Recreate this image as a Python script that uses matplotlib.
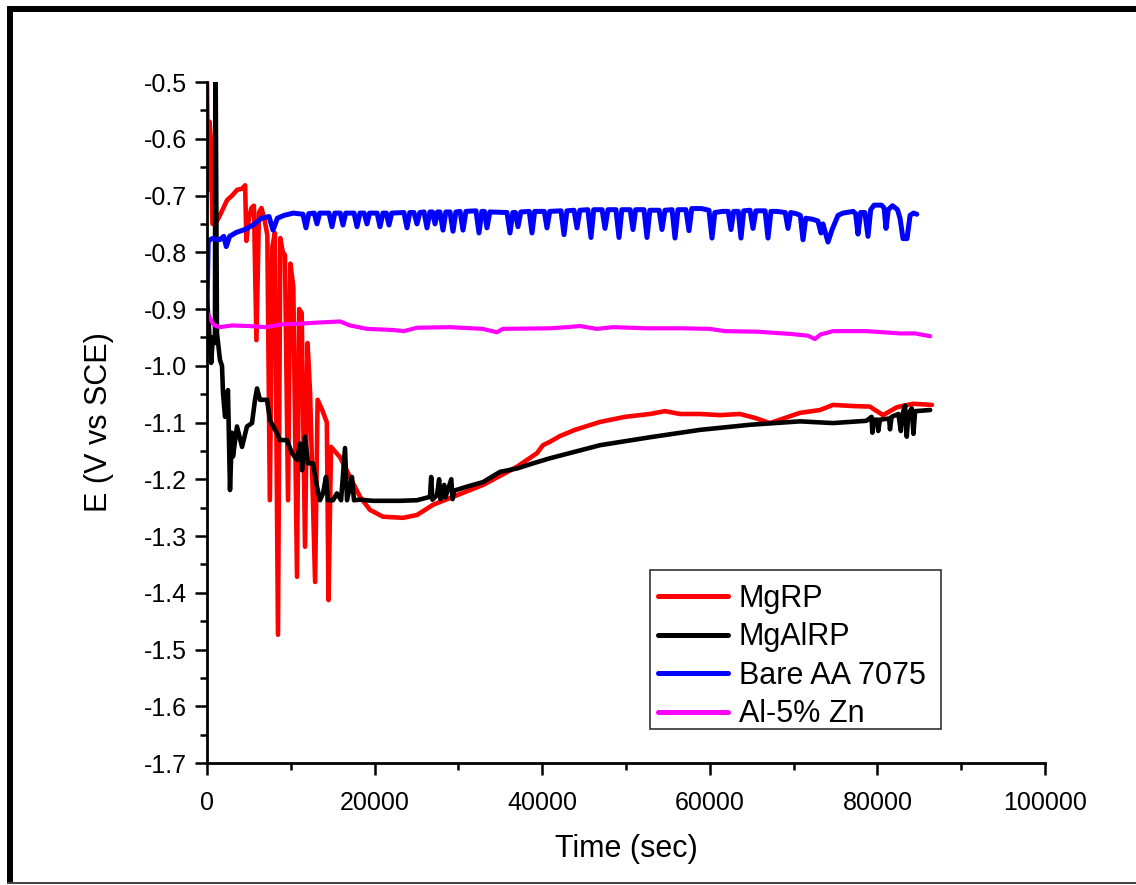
import matplotlib
matplotlib.use("Agg")
import matplotlib.pyplot as plt
from matplotlib.ticker import MultipleLocator, FormatStrFormatter
from matplotlib.patches import Rectangle

plt.rcParams['font.family'] = ['Liberation Sans', 'DejaVu Sans']
plt.rcParams['axes.unicode_minus'] = False

series_labels = ["MgRP", "MgAlRP", "Bare AA 7075", "Al-5% Zn"]
series_colors = ["#ff0000", "#000000", "#0000ff", "#ff00ff"]

mgrp_pts = [
    (0, -0.50), (120, -0.69), (300, -0.57), (450, -0.60), (650, -0.75), (1200, -0.745),
    (1700, -0.73), (2400, -0.708), (3000, -0.700), (3600, -0.690), (4200, -0.688),
    (4550, -0.682), (4700, -0.780), (5000, -0.740), (5300, -0.722), (5600, -0.718),
    (5900, -0.955), (6200, -0.730), (6500, -0.722), (6900, -0.745), (7200, -0.770),
    (7500, -1.237), (7800, -0.790), (8100, -0.766), (8470, -1.474), (8750, -0.775),
    (9050, -0.800), (9300, -0.805), (9670, -1.237), (9950, -0.820), (10300, -0.861),
    (10740, -1.372), (11000, -0.900), (11300, -0.907), (11700, -1.319), (12000, -0.960),
    (12300, -1.048), (12900, -1.381), (13200, -1.060), (13800, -1.080), (14300, -1.100),
    (14500, -1.413), (14800, -1.143), (15870, -1.161), (17060, -1.196), (18260, -1.231),
    (19450, -1.254), (21000, -1.266), (23390, -1.268), (25060, -1.263), (26970, -1.245),
    (29000, -1.233), (32940, -1.210), (36990, -1.178), (39380, -1.154), (40090, -1.140),
    (40930, -1.134), (42100, -1.124), (43900, -1.113), (46900, -1.099), (49900, -1.090),
    (52860, -1.085), (54650, -1.080), (56450, -1.085), (58830, -1.085), (61220, -1.087),
    (63600, -1.085), (65400, -1.092), (67180, -1.101), (68380, -1.095), (70760, -1.083),
    (73150, -1.078), (74700, -1.069), (77100, -1.071), (79100, -1.072), (80670, -1.087),
    (82340, -1.073), (84250, -1.067), (86500, -1.069),
]

mgalrp_pts = [
    (0, -0.88), (120, -0.907), (300, -0.95), (500, -0.995), (700, -0.95), (950, -0.96),
    (1000, -0.40), (1190, -0.942), (1550, -0.990), (1790, -1.000), (1910, -1.048),
    (2150, -1.090), (2500, -1.043), (2745, -1.219), (2980, -1.118), (3100, -1.160),
    (3580, -1.107), (4180, -1.143), (4770, -1.107), (5370, -1.101), (5730, -1.060),
    (5970, -1.040), (6320, -1.060), (7160, -1.060), (7520, -1.096), (8350, -1.119),
    (8710, -1.131), (9550, -1.131), (10140, -1.154), (10740, -1.166), (11100, -1.137),
    (11340, -1.184), (11690, -1.125), (12050, -1.172), (12650, -1.172), (13130, -1.213),
    (13480, -1.237), (13840, -1.225), (14200, -1.196), (14440, -1.237), (15040, -1.237),
    (15500, -1.225), (16000, -1.237), (16470, -1.145), (16710, -1.237), (17300, -1.196),
    (17540, -1.237), (18260, -1.236), (19810, -1.238), (23030, -1.238), (25060, -1.237),
    (26610, -1.231), (26750, -1.196), (26900, -1.236), (27450, -1.228), (27700, -1.200),
    (27850, -1.235), (28300, -1.210), (28450, -1.232), (29150, -1.200), (29300, -1.235),
    (29500, -1.220), (31030, -1.213), (32940, -1.205), (34960, -1.187), (36990, -1.181),
    (38900, -1.172), (40930, -1.163), (46900, -1.140), (52860, -1.126), (58830, -1.113),
    (64800, -1.104), (70760, -1.098), (74700, -1.101), (78700, -1.097), (79300, -1.090),
    (79400, -1.118), (79600, -1.095), (80000, -1.095), (80100, -1.115), (80300, -1.095),
    (81400, -1.093), (81500, -1.112), (81700, -1.090), (82500, -1.085), (82800, -1.115),
    (83000, -1.085), (83300, -1.070), (83500, -1.125), (83700, -1.085), (84100, -1.075),
    (84300, -1.120), (84500, -1.080), (86300, -1.078),
]

bare_pts = [
    (0, -0.90), (150, -0.78), (600, -0.776), (1500, -0.778), (2000, -0.772), (2300, -0.790),
    (2700, -0.772), (3500, -0.765), (4500, -0.760), (5500, -0.752), (6500, -0.740),
    (7400, -0.737), (7876, -0.761), (8400, -0.740), (9200, -0.735), (10300, -0.731),
    (11450, -0.733), (11814, -0.757), (12150, -0.732), (12800, -0.731), (13127, -0.750),
    (13450, -0.731), (14550, -0.731), (14917, -0.755), (15250, -0.731), (15900, -0.731),
    (16229, -0.752), (16550, -0.731), (17550, -0.731), (17900, -0.755), (18250, -0.731),
    (18750, -0.731), (19093, -0.750), (19400, -0.731), (20300, -0.731), (20644, -0.755),
    (21000, -0.731), (21400, -0.731), (21718, -0.752), (22050, -0.731), (23500, -0.730),
    (23866, -0.757), (24200, -0.730), (24700, -0.730), (25060, -0.750), (25400, -0.730),
    (25900, -0.729), (26253, -0.757), (26600, -0.729), (26900, -0.729), (27208, -0.750),
    (27500, -0.729), (27800, -0.729), (28162, -0.761), (28500, -0.729), (29000, -0.729),
    (29356, -0.763), (29700, -0.729), (30200, -0.728), (30549, -0.761), (30900, -0.728),
    (32100, -0.727), (32458, -0.766), (32800, -0.728), (33100, -0.728), (33413, -0.757),
    (33750, -0.729), (35800, -0.730), (36158, -0.766), (36500, -0.730), (36800, -0.730),
    (37112, -0.755), (37450, -0.729), (38450, -0.728), (38783, -0.766), (39100, -0.728),
    (40250, -0.728), (40573, -0.757), (40900, -0.728), (42250, -0.727), (42601, -0.769),
    (42950, -0.727), (43800, -0.726), (44153, -0.757), (44500, -0.726), (45450, -0.725),
    (45823, -0.774), (46150, -0.725), (47150, -0.725), (47494, -0.758), (47850, -0.725),
    (48800, -0.725), (49165, -0.774), (49500, -0.725), (50500, -0.725), (50835, -0.760),
    (51150, -0.725), (52150, -0.725), (52506, -0.774), (52850, -0.726), (53950, -0.726),
    (54296, -0.760), (54650, -0.726), (55500, -0.725), (55847, -0.775), (56200, -0.725),
    (57150, -0.725), (57518, -0.762), (57850, -0.723), (59000, -0.723), (59900, -0.726),
    (60263, -0.775), (60600, -0.730), (61500, -0.728), (62200, -0.728), (62530, -0.760),
    (62850, -0.728), (63400, -0.728), (63723, -0.775), (64050, -0.727), (64800, -0.726),
    (65155, -0.758), (65500, -0.727), (66600, -0.727), (66945, -0.775), (67300, -0.728),
    (68000, -0.728), (69000, -0.730), (69332, -0.758), (69650, -0.730), (70300, -0.732),
    (70800, -0.735), (71122, -0.778), (71450, -0.740), (72300, -0.742), (72900, -0.745),
    (73270, -0.766), (73500, -0.750), (74105, -0.782), (74600, -0.760), (75300, -0.735),
    (75900, -0.731), (77100, -0.728), (77400, -0.732), (77685, -0.768), (78000, -0.730),
    (78500, -0.730), (78878, -0.772), (79200, -0.725), (79600, -0.717), (80500, -0.717),
    (80800, -0.722), (81026, -0.758), (81300, -0.725), (81800, -0.718), (82400, -0.725),
    (82700, -0.740), (83055, -0.776), (83532, -0.776), (83900, -0.735), (84300, -0.731),
    (84700, -0.733),
]

alzn_pts = [
    (0, -0.905), (300, -0.915), (800, -0.928), (1500, -0.932), (3000, -0.929),
    (5000, -0.930), (7000, -0.932), (9000, -0.927), (11000, -0.926), (13100, -0.924),
    (15900, -0.922), (17060, -0.929), (19100, -0.935), (22200, -0.937), (23500, -0.939),
    (25060, -0.933), (29000, -0.932), (32900, -0.935), (34600, -0.941), (35300, -0.935),
    (40900, -0.934), (43000, -0.932), (44500, -0.930), (46500, -0.935), (48500, -0.932),
    (52500, -0.934), (56500, -0.934), (60000, -0.935), (61800, -0.939), (65700, -0.940),
    (69700, -0.944), (71700, -0.947), (72550, -0.953), (73200, -0.945), (74700, -0.939),
    (78700, -0.939), (82700, -0.943), (84500, -0.943), (86300, -0.948),
]

all_series = [mgrp_pts, mgalrp_pts, bare_pts, alzn_pts]
line_widths = [3.3, 3.3, 3.6, 3.0]

fig = plt.figure(figsize=(11.36, 8.85), dpi=100)
ax = fig.add_axes([207 / 1136, 1 - 763 / 885, 838 / 1136, 681 / 885])

for pts, lab, col, lw in zip(all_series, series_labels, series_colors, line_widths):
    t = [p[0] for p in pts]
    e = [p[1] for p in pts]
    ax.plot(t, e, color=col, lw=lw, label=lab, solid_joinstyle='round', solid_capstyle='round')

ax.set_xlim(0, 100000)
ax.set_ylim(-1.7, -0.5)
ax.xaxis.set_major_locator(MultipleLocator(20000))
ax.xaxis.set_minor_locator(MultipleLocator(10000))
ax.yaxis.set_major_locator(MultipleLocator(0.1))
ax.yaxis.set_minor_locator(MultipleLocator(0.05))
ax.yaxis.set_major_formatter(FormatStrFormatter('%.1f'))

for s in ['top', 'right']:
    ax.spines[s].set_visible(False)
for s in ['left', 'bottom']:
    ax.spines[s].set_linewidth(2.0)

ax.tick_params(axis='both', which='major', direction='out', length=8.5, width=1.8,
               labelsize=18, color='black')
ax.tick_params(axis='both', which='minor', direction='out', length=5, width=1.8)
ax.tick_params(axis='x', which='major', pad=11.5)
ax.tick_params(axis='y', which='major', pad=6)

ax.set_xlabel("Time (sec)", fontsize=22, labelpad=13.5)
ax.set_ylabel("E (V vs SCE)", fontsize=22, labelpad=21)

# legend frame drawn as a box, legend entries placed inside it
ax.add_patch(Rectangle((0.5286, 0.0499), 0.3474, 0.2335, transform=ax.transAxes,
                       facecolor='white', edgecolor='#333333', linewidth=1.2, zorder=4))
leg = ax.legend(loc='upper left', bbox_to_anchor=(0.5286, (763 - 576) / 681),
                borderaxespad=0, fontsize=22, frameon=False,
                handlelength=2.3, handletextpad=0.35, labelspacing=0.28, borderpad=0.25)
leg.set_zorder(5)
for h in leg.get_lines():
    h.set_linewidth(3.6)

# figure border
fig.add_artist(Rectangle((7 / 1136, 873 / 885), 1 - 7 / 1136, 6 / 885, transform=fig.transFigure,
                         facecolor='black', edgecolor='none'))
fig.add_artist(Rectangle((7 / 1136, 1 / 885), 6 / 1136, 878 / 885, transform=fig.transFigure,
                         facecolor='black', edgecolor='none'))
fig.add_artist(Rectangle((7 / 1136, 1 / 885), 1 - 7 / 1136, 2 / 885, transform=fig.transFigure,
                         facecolor='#444444', edgecolor='none'))

fig.savefig("out.png", dpi=100)
